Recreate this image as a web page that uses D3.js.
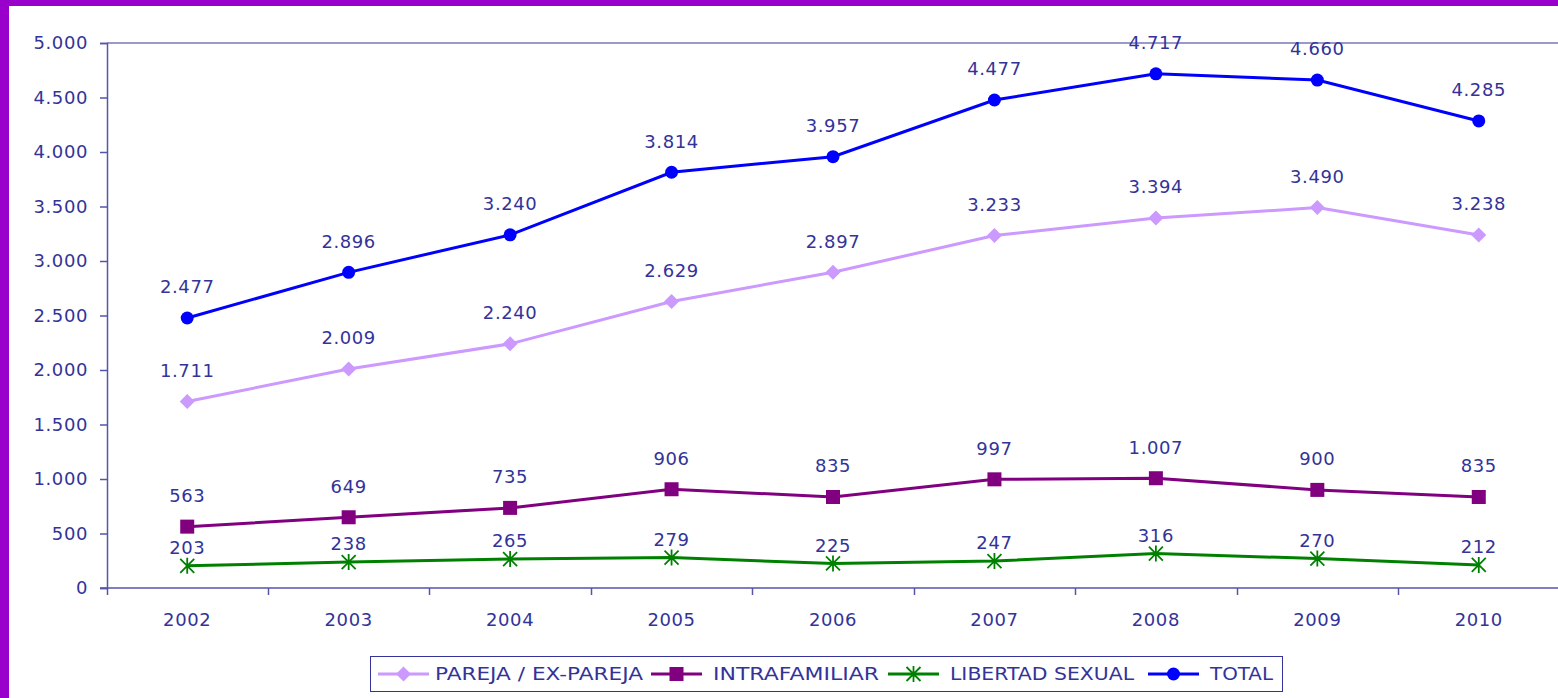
<!DOCTYPE html>
<html>
<head>
<meta charset="utf-8">
<script src="https://cdn.jsdelivr.net/npm/d3@7"></script>
<style>
  body { margin: 0; background: #fff; }
  svg { display: block; }
</style>
</head>
<body>
<div id="chart"></div>
<script>
const years = ["2002","2003","2004","2005","2006","2007","2008","2009","2010"]
const pareja = [1711, 2009, 2240, 2629, 2897, 3233, 3394, 3490, 3238]
const intrafamiliar = [563, 649, 735, 906, 835, 997, 1007, 900, 835]
const libertad = [203, 238, 265, 279, 225, 247, 316, 270, 212]
const total = [2477, 2896, 3240, 3814, 3957, 4477, 4717, 4660, 4285]
const yTicks = [0, 500, 1000, 1500, 2000, 2500, 3000, 3500, 4000, 4500, 5000]

const width = 1558
const height = 698
const textColor = "#333399"
const font = "'DejaVu Sans', Verdana, sans-serif"
const fmt = d3.format(",")
const lab = v => fmt(v).replace(/,/g, ".")

const series = [
  { name: "PAREJA / EX-PAREJA", values: pareja, color: "#cc99ff", marker: "diamond", dy: -31 },
  { name: "INTRAFAMILIAR", values: intrafamiliar, color: "#800080", marker: "square", dy: -31 },
  { name: "LIBERTAD SEXUAL", values: libertad, color: "#008000", marker: "star", dy: -18 },
  { name: "TOTAL", values: total, color: "#0000ff", marker: "circle", dy: -31 }
]

const svg = d3.select("#chart")
  .append("svg")
  .attr("width", width)
  .attr("height", height)

// purple frame
svg.append("rect").attr("x", 0).attr("y", 0).attr("width", width).attr("height", 6).attr("fill", "#9900cc")
svg.append("rect").attr("x", 0).attr("y", 0).attr("width", 9).attr("height", height).attr("fill", "#9900cc")

const x = d3.scaleBand()
  .domain(years)
  .range([106.5, 1559.5])

const y = d3.scaleLinear()
  .domain([0, 5000])
  .range([588, 43])

// top border line of plot
svg.append("line")
  .attr("x1", 107).attr("x2", width)
  .attr("y1", y(5000)).attr("y2", y(5000))
  .attr("stroke", "#9999cc").attr("stroke-width", 2)

// y axis
const yAxis = svg.append("g")
  .attr("transform", "translate(107,0)")
  .call(d3.axisLeft(y).tickValues(yTicks).tickFormat(lab).tickSize(7).tickPadding(12))
yAxis.select(".domain").attr("stroke", "#5555aa").attr("stroke-width", 1.5)
yAxis.selectAll(".tick line").attr("stroke", "#5555aa").attr("stroke-width", 1.5)
yAxis.selectAll("text")
  .attr("fill", textColor)
  .style("font-family", font)
  .style("font-size", "18px")
  .style("letter-spacing", "0.6px")

// x axis: ticks between categories
const xAxis = svg.append("g")
  .attr("transform", `translate(0,${y(0)})`)
xAxis.append("line")
  .attr("x1", 100).attr("x2", width)
  .attr("stroke", "#5555aa").attr("stroke-width", 1.5)
const bounds = years.map(d => x(d))
xAxis.selectAll(".btick")
  .data(bounds)
  .join("line")
  .attr("x1", d => Math.round(d) + 0.5).attr("x2", d => Math.round(d) + 0.5)
  .attr("y1", 0).attr("y2", 7)
  .attr("stroke", "#5555aa").attr("stroke-width", 1.5)
xAxis.selectAll(".xlab")
  .data(years)
  .join("text")
  .attr("x", d => x(d) + x.bandwidth() / 2)
  .attr("y", 38)
  .attr("text-anchor", "middle")
  .attr("fill", textColor)
  .style("font-family", font)
  .style("font-size", "18px")
  .style("letter-spacing", "0.6px")
  .text(d => d)

const cx = d => x(d) + x.bandwidth() / 2

function drawMarker(sel, type, color) {
  if (type === "diamond") {
    sel.append("path").attr("d", "M0,-7.5L7.5,0L0,7.5L-7.5,0Z").attr("fill", color)
  } else if (type === "square") {
    sel.append("rect").attr("x", -7).attr("y", -7).attr("width", 14).attr("height", 14).attr("fill", color)
  } else if (type === "circle") {
    sel.append("circle").attr("r", 6.5).attr("fill", color)
  } else if (type === "star") {
    sel.append("path")
      .attr("d", "M-7,-7L7,7M-7,7L7,-7M0,-8L0,8")
      .attr("stroke", color).attr("stroke-width", 1.8).attr("fill", "none")
  }
}

const line = d3.line()
  .x((d, i) => cx(years[i]))
  .y(d => y(d))

series.forEach(s => {
  const g = svg.append("g")
  g.append("path")
    .datum(s.values)
    .attr("d", line)
    .attr("fill", "none")
    .attr("stroke", s.color)
    .attr("stroke-width", 3)

  g.selectAll(".m")
    .data(s.values)
    .join("g")
    .attr("transform", (d, i) => `translate(${cx(years[i])},${y(d)})`)
    .each(function() { drawMarker(d3.select(this), s.marker, s.color) })

  g.selectAll(".lbl")
    .data(s.values)
    .join("text")
    .attr("x", (d, i) => cx(years[i]))
    .attr("y", d => y(d) + s.dy)
    .attr("dy", "0.35em")
    .attr("text-anchor", "middle")
    .attr("fill", textColor)
    .style("font-family", font)
    .style("font-size", "18px")
    .style("letter-spacing", "0.6px")
    .text(d => lab(d))
})

// legend
const legend = svg.append("g")
legend.append("rect")
  .attr("x", 370.5).attr("y", 656.5)
  .attr("width", 912).attr("height", 35)
  .attr("fill", "#fff")
  .attr("stroke", "#333399").attr("stroke-width", 1)

const legendX = [378, 651, 888, 1148]
const legendW = [208, 166, 184, 63]
series.forEach((s, i) => {
  const lg = legend.append("g").attr("transform", `translate(${legendX[i]},674)`)
  lg.append("line")
    .attr("x1", 0).attr("x2", 51)
    .attr("stroke", s.color).attr("stroke-width", 3)
  const mk = lg.append("g").attr("transform", "translate(25.5,0)")
  drawMarker(mk, s.marker, s.color)
  lg.append("text")
    .attr("x", i === 0 ? 57 : 62)
    .attr("dy", "0.35em")
    .attr("fill", textColor)
    .attr("textLength", legendW[i])
    .attr("lengthAdjust", "spacingAndGlyphs")
    .style("font-family", font)
    .style("font-size", "17px")
    .text(s.name)
})
</script>
</body>
</html>
